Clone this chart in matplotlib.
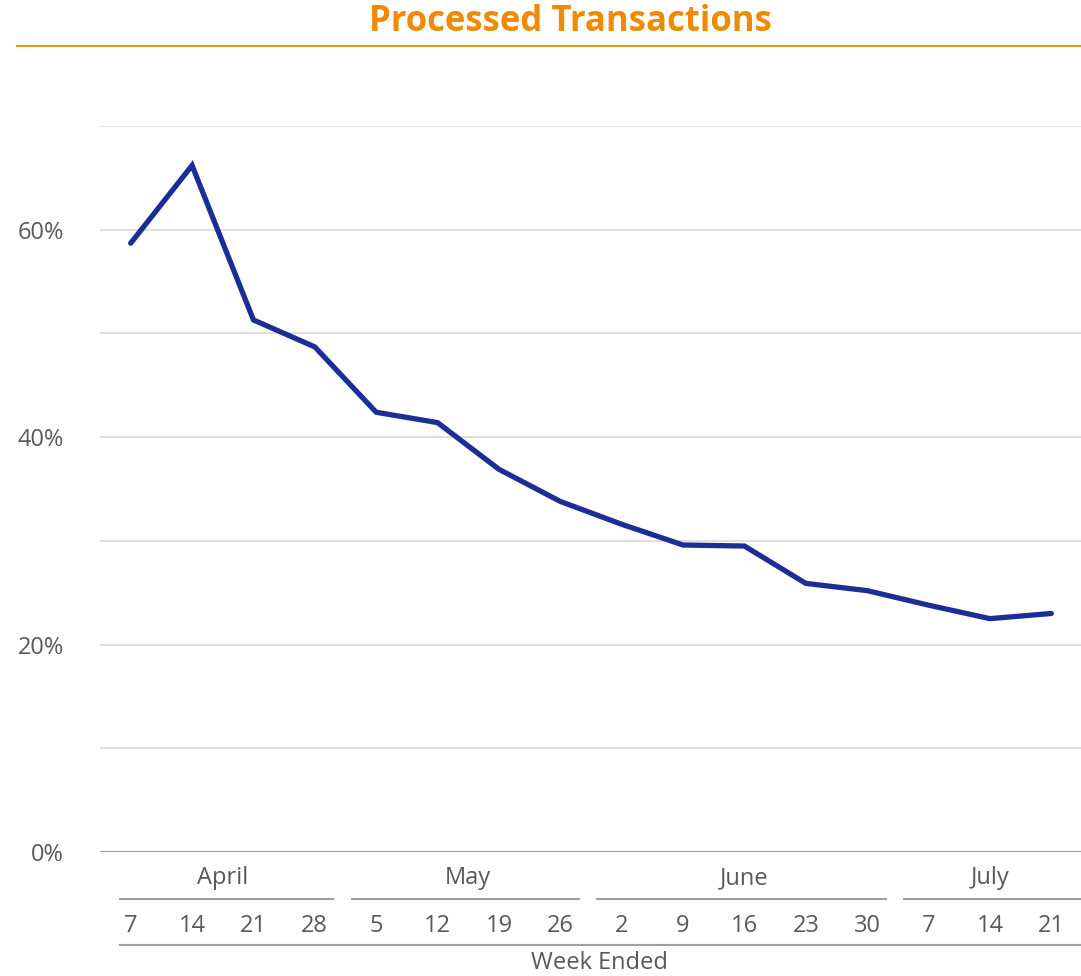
import matplotlib
matplotlib.use("Agg")
import matplotlib.pyplot as plt
from matplotlib.lines import Line2D
from matplotlib.transforms import blended_transform_factory
import numpy as np

plt.rcParams['font.family'] = ['Open Sans', 'DejaVu Sans']

months = ["April", "May", "June", "July"]
month_weeks = [[7, 14, 21, 28], [5, 12, 19, 26], [2, 9, 16, 23, 30], [7, 14, 21]]
values = [58.7, 66.2, 51.3, 48.7, 42.4, 41.4, 36.9, 33.8,
          31.6, 29.6, 29.5, 25.9, 25.2, 23.8, 22.5, 23.0]
y_ticks = [0, 20, 40, 60]
title = "Processed Transactions"
xlabel = "Week Ended"

W, H = 1081, 976
fig = plt.figure(figsize=(W / 100, H / 100), dpi=100)
ax = fig.add_axes([100 / W, (H - 852) / H, 982 / W, (852 - 126) / H])

labels = [str(d) for ws in month_weeks for d in ws]
x = np.arange(len(values))
ax.plot(x, values, color="#1A2E96", lw=3.8, solid_joinstyle="miter", solid_capstyle="round", zorder=3)

ax.set_xlim(-0.5, len(values) - 0.5)
ax.set_ylim(0, 70)
for g in np.arange(10, 71, 10):
    ax.axhline(g, color="#D9D9D9", lw=1.2, zorder=1)
ax.axhline(0, color="#A6A6A6", lw=2.4, zorder=2)
ax.set_yticks(y_ticks)
ax.set_yticklabels([f"{t}%" for t in y_ticks])
ax.tick_params(axis="y", length=0, labelsize=17, labelcolor="#595959", pad=26)
ax.set_xticks([])
for s in ax.spines.values():
    s.set_visible(False)

gray = "#595959"
linec = "#A0A0A0"
tr = blended_transform_factory(ax.transData, fig.transFigure)

def fy(py):
    return (H - py) / H

# week labels
for i, lab in enumerate(labels):
    fig.text(0, fy(926), lab, transform=tr, ha="center", va="center", fontsize=17, color=gray)
    fig.texts[-1].set_x(i)

# month groups
start = 0
n = len(values)
for mi, (m, ws) in enumerate(zip(months, month_weeks)):
    end = start + len(ws) - 1
    x0 = -0.18 if mi == 0 else start - 0.4
    x1 = n - 0.54 if mi == len(months) - 1 else end + 0.3
    fig.add_artist(Line2D([x0, x1], [fy(899), fy(899)], transform=tr, color=linec, lw=1.5))
    fig.text((start + end) / 2, fy(878), m, transform=tr, ha="center", va="center", fontsize=17, color=gray)
    start = end + 1

fig.add_artist(Line2D([-0.18, n - 0.54], [fy(945), fy(945)], transform=tr, color=linec, lw=1.5))
fig.text(((-0.18) + (n - 0.54)) / 2, fy(963), xlabel, transform=tr, ha="center", va="center", fontsize=17, color=gray)

# title
fig.text(570 / W, fy(22), title, ha="center", va="center", fontsize=25, fontweight="bold", color="#F08A00")
fig.add_artist(Line2D([17 / W, 1.0], [fy(46), fy(46)], transform=fig.transFigure, color="#F08A00", lw=1.3))

fig.savefig("out.png", dpi=100, facecolor="white")
